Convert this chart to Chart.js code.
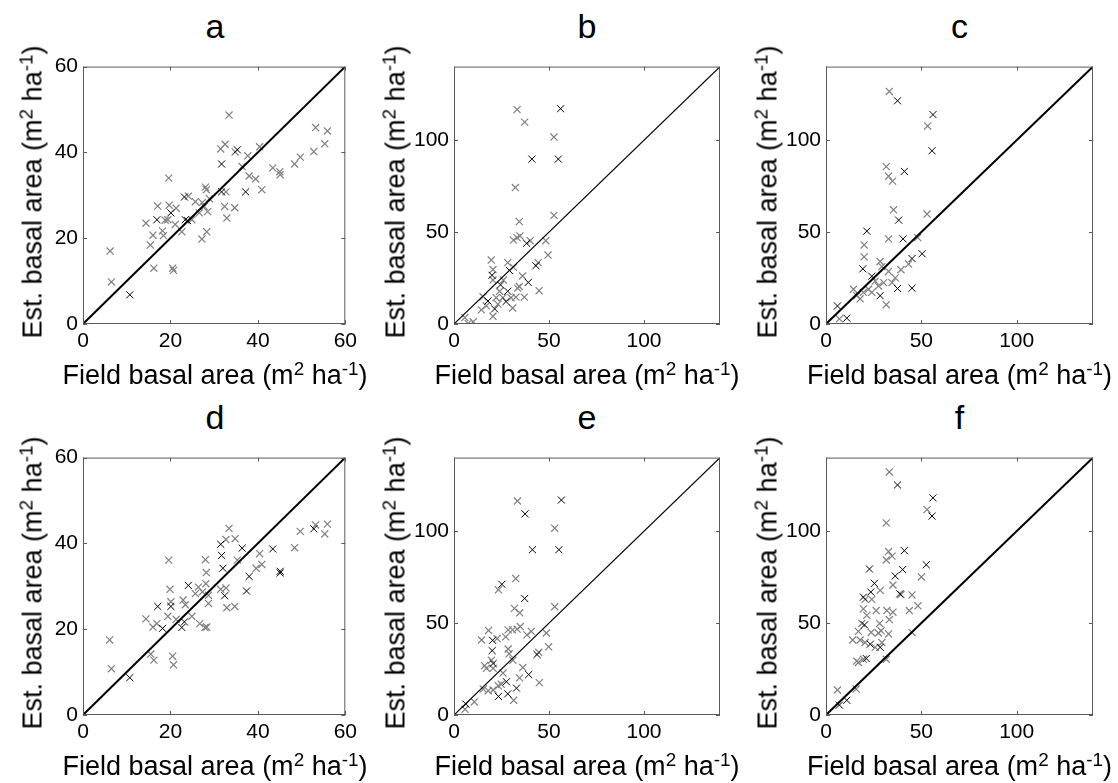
<!DOCTYPE html>
<html>
<head>
<meta charset="utf-8">
<script src="https://cdn.jsdelivr.net/npm/chart.js@4.4.1/dist/chart.umd.min.js"></script>
<style>
  body { margin:0; width:1118px; height:783px; background:#fff; position:relative; overflow:hidden; font-family:"Liberation Sans", Arial, sans-serif; }
  canvas { position:absolute; }
  .txt { position:absolute; white-space:nowrap; color:#000; line-height:1; }
  .ttl { font-size:34px; }
  .lab { font-size:27px; }
  .lab sup { font-size:70%; vertical-align:0.5em; line-height:0; }
</style>
</head>
<body>
<script>
// field basal area vs estimated basal area (m2 ha-1), [field, est]
// gray crosses and dark crosses for each panel

const aGray = [[6.2,17.0],[6.5,9.8],[16.2,13.0],[20.5,13.0],[20.7,12.5],[15.4,18.4],[16.0,20.7],[14.4,23.5],[17.1,27.5],[18.8,24.2],[18.2,21.7],[18.4,20.6],[19.6,34.0],[19.7,27.7],[19.4,24.3],[21.3,27.0],[21.1,23.2],[22.6,21.5],[24.1,29.8],[24.9,24.3],[25.7,28.5],[26.6,25.9],[27.2,19.8],[28.3,21.5],[28.0,31.9],[28.2,31.3],[27.7,27.4],[28.5,26.2],[28.9,29.2],[27.3,28.3],[31.5,40.8],[32.5,41.9],[33.4,48.7],[32.7,30.8],[32.4,27.4],[32.9,24.7],[34.7,27.1],[34.8,40.1],[36.4,36.7],[37.7,39.2],[38.0,34.5],[39.5,33.8],[40.4,41.3],[40.9,31.3],[43.4,36.4],[45.0,35.5],[45.1,34.8],[48.4,37.3],[49.7,38.9],[52.8,40.2],[53.2,45.8],[55.3,42.0],[55.9,45.0]];
const aDark = [[10.7,6.8],[16.9,24.3],[20.1,25.9],[23.2,29.6],[23.4,24.3],[23.9,24.1],[31.7,37.3],[31.7,30.8],[35.3,40.6],[37.2,30.8]];

const bGray = [[33.2,116.6],[37.2,109.8],[52.6,101.7],[32.3,74.2],[34.4,55.7],[52.6,59.1],[31.3,45.6],[34.7,47.9],[33.2,47.0],[40.1,45.3],[48.3,45.3],[49.5,37.5],[44.3,33.4],[19.6,34.8],[20.5,29.6],[20.5,23.9],[28.3,33.4],[31.3,30.8],[26.0,23.9],[36.1,26.1],[44.8,18.1],[37.0,14.6],[32.6,14.6],[30.9,8.7],[15.3,14.8],[22.2,14.3],[14.4,7.7],[20.5,4.2],[23.1,10.8],[25.7,14.3],[24.0,17.8],[34.4,20.4],[5.7,3.5],[10.1,1.2],[7.5,0.3],[17.0,9.9],[30.0,14.3],[33.5,19.5]];
const bDark = [[56.1,117.1],[41.0,89.7],[54.9,89.7],[38.2,43.9],[43.1,31.7],[20.0,26.5],[29.2,29.1],[24.5,21.3],[39.1,22.6],[28.3,17.8],[27.4,12.2],[21.4,8.2],[17.9,12.5]];

const cGray = [[33.2,126.5],[53.3,107.7],[31.6,85.6],[32.8,80.4],[34.9,77.7],[35.4,62.1],[53.0,59.8],[20.0,43.0],[20.0,36.5],[32.8,46.3],[48.1,47.0],[43.3,32.6],[39.3,29.5],[28.4,34.0],[29.3,31.2],[32.8,28.6],[36.3,25.1],[31.6,10.5],[25.8,23.3],[27.5,20.7],[22.3,18.9],[19.6,17.2],[14.4,18.9],[16.1,15.4],[17.9,13.7],[24.0,17.2],[7.0,2.8],[30.2,22.5],[34.6,22.5]];
const cDark = [[37.5,121.4],[56.1,113.9],[55.6,94.2],[41.1,83.0],[38.1,56.5],[21.4,50.5],[19.3,30.0],[40.4,46.3],[50.4,38.2],[45.1,35.6],[45.1,19.5],[37.5,19.3],[24.0,26.0],[28.4,15.4],[6.0,9.8],[10.9,3.2]];

const dGray = [[6.1,17.5],[6.5,10.8],[15.5,14.2],[16.2,12.8],[20.5,13.7],[20.7,11.7],[14.4,22.4],[16.0,20.5],[16.9,21.3],[19.6,36.1],[19.9,29.3],[20.1,26.4],[19.4,23.0],[21.3,22.3],[22.9,26.8],[23.4,25.7],[24.9,23.0],[25.7,28.3],[26.4,29.8],[26.7,21.3],[27.9,20.4],[28.3,20.5],[28.0,36.2],[28.2,33.2],[28.1,30.6],[28.7,27.9],[28.7,26.0],[27.3,28.7],[31.5,29.3],[32.9,25.0],[32.7,29.6],[34.7,25.3],[32.7,40.9],[33.4,43.5],[34.8,41.1],[35.3,36.1],[39.6,34.2],[40.9,35.1],[40.4,37.6],[48.4,39.0],[49.7,42.8],[53.2,44.3],[55.3,42.2],[55.9,44.5]];
const dDark = [[10.7,8.7],[17.1,25.3],[18.2,20.2],[20.1,25.3],[22.6,20.4],[23.2,21.7],[24.1,30.2],[31.5,39.8],[31.7,37.2],[32.0,34.2],[32.4,27.8],[36.4,38.9],[37.4,28.9],[38.0,32.3],[43.4,38.7],[45.1,33.5],[45.1,33.1],[52.8,43.4]];

const eGray = [[33.4,116.4],[53.0,101.6],[32.5,74.2],[23.4,68.1],[31.8,58.0],[34.6,55.6],[53.0,58.9],[18.2,46.0],[14.5,40.8],[22.7,41.6],[27.2,42.5],[28.5,46.3],[30.8,46.3],[33.2,46.7],[34.9,48.1],[40.7,45.5],[48.6,44.6],[49.8,37.1],[44.6,34.1],[28.5,35.9],[29.0,33.3],[19.7,29.8],[16.1,26.8],[20.6,25.4],[31.0,29.8],[36.2,25.8],[44.9,17.6],[34.5,20.2],[25.8,22.8],[24.9,16.7],[31.4,8.0],[15.4,14.1],[18.0,13.2],[20.6,13.6],[23.3,15.9],[10.7,7.1],[5.8,3.1],[17.1,25.4],[38.4,43.6]];
const eDark = [[56.5,116.9],[37.4,109.4],[41.3,89.9],[55.2,89.9],[25.2,71.1],[37.2,63.4],[20.3,40.6],[20.1,35.0],[43.7,32.9],[39.3,22.0],[28.3,11.5],[23.4,10.1],[32.9,14.6],[27.6,18.1],[20.6,28.0],[6.3,5.9]];

const fGray = [[33.2,132.2],[53.0,111.7],[31.6,104.5],[32.8,88.9],[34.6,86.4],[31.6,84.3],[50.0,75.1],[28.4,67.8],[35.1,70.7],[39.3,65.5],[45.1,65.3],[20.5,62.9],[24.0,62.9],[19.6,57.7],[21.4,54.2],[26.3,56.8],[31.9,56.8],[35.1,55.9],[33.2,51.9],[43.7,56.8],[48.2,59.4],[18.8,49.8],[28.1,49.8],[23.7,44.9],[27.5,44.6],[28.9,45.8],[32.8,44.1],[45.1,44.9],[17.0,45.5],[14.0,40.8],[17.9,40.8],[20.5,39.4],[25.8,36.8],[29.3,39.4],[31.6,30.3],[16.1,29.3],[17.0,28.6],[19.6,30.3],[6.0,13.6],[15.8,14.1]];
const fDark = [[37.5,125.1],[56.1,118.1],[55.6,108.2],[41.1,89.4],[52.6,81.7],[22.8,79.4],[40.2,79.1],[36.3,75.6],[25.4,71.6],[23.5,66.9],[38.7,65.9],[19.6,64.1],[20.2,49.0],[23.2,38.5],[28.4,36.8],[21.1,30.7],[10.9,8.0],[7.0,5.4]];

// axis limits / tick steps
const smallMax = 60, smallStep = 20;
const bigMax = 140, bigStep = 50;

const xLabel = 'Field basal area (m<sup>2</sup> ha<sup>-1</sup>)';
const yLabel = 'Est. basal area (m<sup>2</sup> ha<sup>-1</sup>)';

const FONT = '"Liberation Sans", Arial, sans-serif';

// box with inward ticks on all four sides
const framePlugin = {
  id: 'frame',
  afterDraw(chart) {
    const {ctx, chartArea: a, scales} = chart;
    ctx.save();
    ctx.strokeStyle = '#5a5a5a';
    ctx.lineWidth = 1;
    ctx.strokeRect(a.left + 0.5, a.top + 0.5, a.right - a.left - 1, a.bottom - a.top - 1);
    ctx.beginPath();
    scales.x.ticks.forEach(t => {
      let px = Math.round(scales.x.getPixelForValue(t.value)) + 0.5;
      ctx.moveTo(px, a.bottom); ctx.lineTo(px, a.bottom - 4);
      ctx.moveTo(px, a.top); ctx.lineTo(px, a.top + 4);
    });
    scales.y.ticks.forEach(t => {
      let py = Math.round(scales.y.getPixelForValue(t.value)) + 0.5;
      ctx.moveTo(a.left, py); ctx.lineTo(a.left + 4, py);
      ctx.moveTo(a.right, py); ctx.lineTo(a.right - 4, py);
    });
    ctx.stroke();
    ctx.restore();
  }
};

function toPts(list) {
  return list.map(p => ({x: p[0], y: p[1]}));
}

function addText(cls, html, left, top, extra) {
  let d = document.createElement('div');
  d.className = 'txt ' + cls;
  d.innerHTML = html;
  d.style.left = left + 'px';
  d.style.top = top + 'px';
  d.style.transform = extra;
  document.body.appendChild(d);
}

function makePanel(name, box, gray, dark, max, step, lineW, yLabOff) {
  const padL = 70, padT = 10, padR = 15, padB = 40;
  let cv = document.createElement('canvas');
  cv.width = box.w + padL + padR;
  cv.height = box.h + padT + padB;
  cv.style.left = (box.x - padL) + 'px';
  cv.style.top = (box.y - padT) + 'px';
  document.body.appendChild(cv);

  let tickOpts = {
    stepSize: step, includeBounds: false, color: '#000', padding: 5,
    font: {family: FONT, size: 21}, maxRotation: 0
  };

  new Chart(cv, {
    type: 'scatter',
    data: {
      datasets: [
        {
          type: 'line', data: [{x: 0, y: 0}, {x: max, y: max}],
          borderColor: '#000', borderWidth: lineW, pointRadius: 0, fill: false, order: 0
        },
        {
          data: toPts(gray), pointStyle: 'crossRot', pointRadius: 5,
          borderColor: '#808080', borderWidth: 1.2, order: 2
        },
        {
          data: toPts(dark), pointStyle: 'crossRot', pointRadius: 5,
          borderColor: '#000', borderWidth: 1, order: 1
        }
      ]
    },
    options: {
      responsive: false,
      animation: false,
      layout: {padding: {top: padT, right: padR, left: 0, bottom: 0}, autoPadding: false},
      plugins: {legend: {display: false}, tooltip: {enabled: false}},
      scales: {
        x: {
          type: 'linear', min: 0, max: max, ticks: tickOpts,
          grid: {display: false, drawTicks: false}, border: {display: false},
          afterFit: s => { s.height = padB; }
        },
        y: {
          type: 'linear', min: 0, max: max, ticks: tickOpts,
          grid: {display: false, drawTicks: false}, border: {display: false},
          afterFit: s => { s.width = padL; }
        }
      }
    },
    plugins: [framePlugin]
  });

  let cx = box.x + box.w / 2;
  addText('ttl', name, cx, box.y - 50, 'translateX(-50%)');
  addText('lab', xLabel, cx, box.y + box.h + 37.5, 'translateX(-50%)');
  addText('lab', yLabel, box.x - yLabOff, box.y + box.h / 2, 'translate(-50%,-50%) rotate(-90deg)');
}

makePanel('a', {x: 83, y: 59, w: 264, h: 265}, aGray, aDark, smallMax, smallStep, 2, 50.5);
makePanel('b', {x: 454, y: 59, w: 266, h: 265}, bGray, bDark, bigMax, bigStep, 1.2, 58);
makePanel('c', {x: 826, y: 59, w: 267, h: 265}, cGray, cDark, bigMax, bigStep, 2, 58);
makePanel('d', {x: 83, y: 450, w: 264, h: 265}, dGray, dDark, smallMax, smallStep, 2, 50.5);
makePanel('e', {x: 454, y: 450, w: 266, h: 265}, eGray, eDark, bigMax, bigStep, 1.2, 58);
makePanel('f', {x: 826, y: 450, w: 267, h: 265}, fGray, fDark, bigMax, bigStep, 2, 58);
</script>
</body>
</html>
